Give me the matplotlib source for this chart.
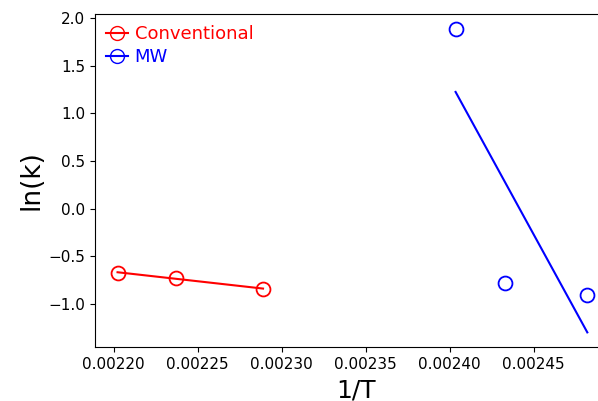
import numpy as np
import matplotlib
matplotlib.use('Agg')
import matplotlib.pyplot as plt
from matplotlib.lines import Line2D

# Arrhenius data
conv_x = [0.0022024, 0.0022374, 0.0022890]
conv_y = [-0.67, -0.73, -0.84]
mw_x = [0.0024036, 0.0024330, 0.0024820]
mw_y = [1.885, -0.78, -0.90]

fig = plt.figure(figsize=(5.98, 4.01), dpi=100)
ax = fig.add_axes([0.1589, 0.1347, 0.8738, 0.8303])

# linear fits
for xs, ys, c in [(conv_x, conv_y, 'red'), (mw_x, mw_y, 'blue')]:
    xs = np.array(xs)
    p = np.polyfit(xs, ys, 1)
    ax.plot(xs, np.polyval(p, xs), color=c, lw=1.5)
    ax.plot(xs, ys, 'o', mfc='none', mec=c, ms=10, mew=1.3)

ax.set_xlim(0.002189, 0.002500)
ax.set_ylim(-1.45, 2.04)
ax.spines['right'].set_visible(False)
ax.set_xticks([0.00220, 0.00225, 0.00230, 0.00235, 0.00240, 0.00245])
ax.set_xticklabels(['0.00220', '0.00225', '0.00230', '0.00235', '0.00240', '0.00245'])
ax.tick_params(labelsize=11)
ax.set_xlabel('1/T', fontsize=18, labelpad=5)
ax.set_ylabel('ln(k)', fontsize=19, labelpad=3)

handles = [Line2D([0], [0], color='red', marker='o', mfc='none', ms=10, lw=1.5),
           Line2D([0], [0], color='blue', marker='o', mfc='none', ms=10, lw=1.5)]
leg = ax.legend(handles, ['Conventional', 'MW'], loc='upper left', frameon=False,
                fontsize=13, handlelength=1.2, handletextpad=0.4,
                borderaxespad=0.2, labelspacing=0.3)
for t, c in zip(leg.get_texts(), ['red', 'blue']):
    t.set_color(c)

fig.savefig('out.png', dpi=100)
